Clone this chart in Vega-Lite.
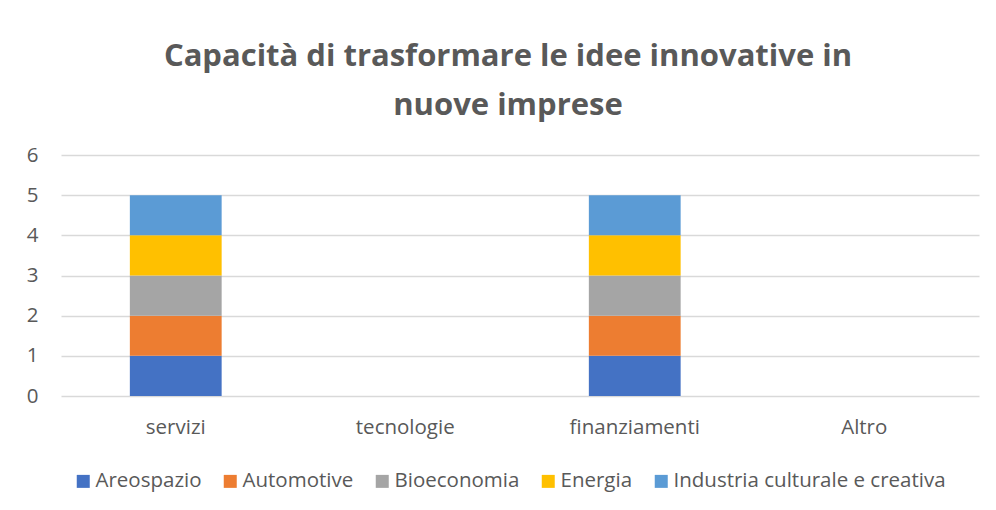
{
  "$schema": "https://vega.github.io/schema/vega-lite/v6.json",
  "width": 918,
  "height": 241,
  "autosize": {"type": "none"},
  "padding": {"left": 61, "top": 155, "right": 17, "bottom": 114},
  "background": "white",
  "title": {
    "text": ["Capacità di trasformare le idee innovative in", "nuove imprese"],
    "anchor": "middle",
    "frame": "group",
    "dx": -12,
    "offset": 23,
    "font": "Open Sans",
    "fontSize": 31,
    "fontWeight": "bold",
    "color": "#595959",
    "lineHeight": 49
  },
  "data": {
    "values": [
      {"categoria": "servizi", "settore": "Areospazio", "ordine": 1, "valore": 1},
      {"categoria": "servizi", "settore": "Automotive", "ordine": 2, "valore": 1},
      {"categoria": "servizi", "settore": "Bioeconomia", "ordine": 3, "valore": 1},
      {"categoria": "servizi", "settore": "Energia", "ordine": 4, "valore": 1},
      {"categoria": "servizi", "settore": "Industria culturale e creativa", "ordine": 5, "valore": 1},
      {"categoria": "tecnologie", "settore": "Areospazio", "ordine": 1, "valore": 0},
      {"categoria": "tecnologie", "settore": "Automotive", "ordine": 2, "valore": 0},
      {"categoria": "tecnologie", "settore": "Bioeconomia", "ordine": 3, "valore": 0},
      {"categoria": "tecnologie", "settore": "Energia", "ordine": 4, "valore": 0},
      {"categoria": "tecnologie", "settore": "Industria culturale e creativa", "ordine": 5, "valore": 0},
      {"categoria": "finanziamenti", "settore": "Areospazio", "ordine": 1, "valore": 1},
      {"categoria": "finanziamenti", "settore": "Automotive", "ordine": 2, "valore": 1},
      {"categoria": "finanziamenti", "settore": "Bioeconomia", "ordine": 3, "valore": 1},
      {"categoria": "finanziamenti", "settore": "Energia", "ordine": 4, "valore": 1},
      {"categoria": "finanziamenti", "settore": "Industria culturale e creativa", "ordine": 5, "valore": 1},
      {"categoria": "Altro", "settore": "Areospazio", "ordine": 1, "valore": 0},
      {"categoria": "Altro", "settore": "Automotive", "ordine": 2, "valore": 0},
      {"categoria": "Altro", "settore": "Bioeconomia", "ordine": 3, "valore": 0},
      {"categoria": "Altro", "settore": "Energia", "ordine": 4, "valore": 0},
      {"categoria": "Altro", "settore": "Industria culturale e creativa", "ordine": 5, "valore": 0}
    ]
  },
  "mark": {"type": "bar"},
  "encoding": {
    "x": {
      "field": "categoria",
      "type": "nominal",
      "sort": ["servizi", "tecnologie", "finanziamenti", "Altro"],
      "scale": {"paddingInner": 0.6, "paddingOuter": 0.3},
      "axis": {
        "title": null,
        "labelAngle": 0,
        "domain": false,
        "ticks": false,
        "labelPadding": 21,
        "labelFont": "Open Sans",
        "labelFontSize": 20.5,
        "labelColor": "#595959"
      }
    },
    "y": {
      "field": "valore",
      "type": "quantitative",
      "aggregate": "sum",
      "stack": "zero",
      "scale": {"domain": [0, 6], "nice": false},
      "axis": {
        "title": null,
        "values": [0, 1, 2, 3, 4, 5, 6],
        "domain": false,
        "ticks": false,
        "labelPadding": 23,
        "labelFont": "Open Sans",
        "labelFontSize": 20.5,
        "labelColor": "#595959",
        "gridColor": "#D9D9D9",
        "gridWidth": 1.3
      }
    },
    "color": {
      "field": "settore",
      "type": "nominal",
      "sort": ["Areospazio", "Automotive", "Bioeconomia", "Energia", "Industria culturale e creativa"],
      "scale": {
        "domain": ["Areospazio", "Automotive", "Bioeconomia", "Energia", "Industria culturale e creativa"],
        "range": ["#4472C4", "#ED7D31", "#A5A5A5", "#FFC000", "#5B9BD5"]
      },
      "legend": {
        "title": null,
        "orient": "none",
        "direction": "horizontal",
        "legendX": 12,
        "legendY": 316,
        "symbolType": "square",
        "symbolSize": 169,
        "symbolStrokeWidth": 0,
        "symbolOpacity": 1,
        "labelFont": "Open Sans",
        "labelFontSize": 20.5,
        "labelColor": "#595959",
        "labelOffset": 2,
        "columnPadding": 18,
        "labelLimit": 400
      }
    },
    "order": {"field": "ordine", "type": "quantitative", "sort": "ascending"}
  },
  "config": {
    "view": {"stroke": null},
    "font": "Open Sans"
  }
}
